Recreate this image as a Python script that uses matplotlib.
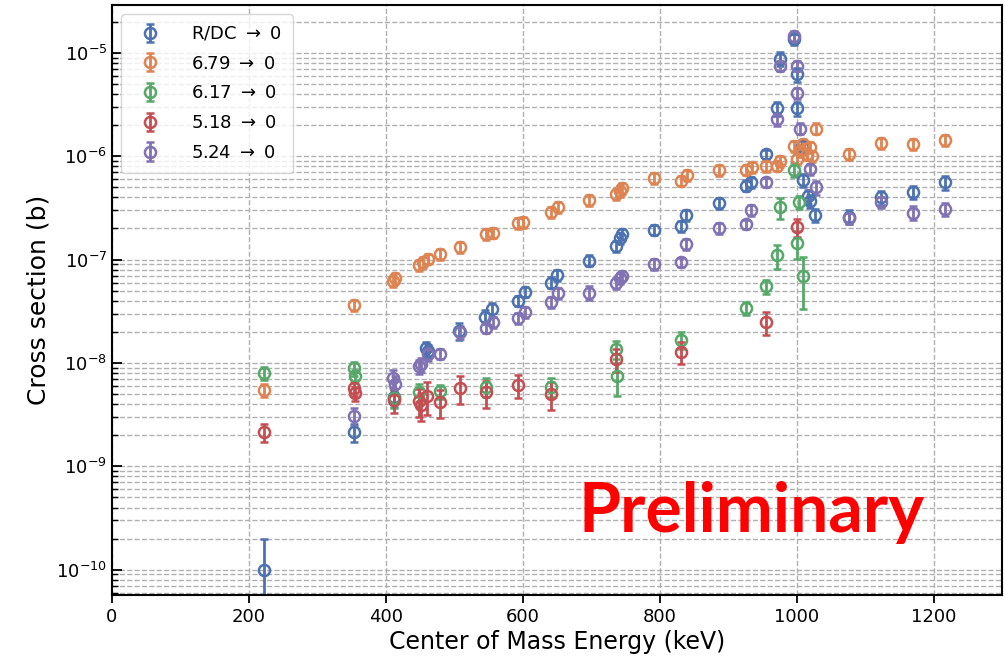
import numpy as np
import matplotlib
matplotlib.use("Agg")
import matplotlib.pyplot as plt

# ---- data (energy in keV, cross section in b)
labels = [r"R/DC $\rightarrow$ 0", r"6.79 $\rightarrow$ 0", r"6.17 $\rightarrow$ 0",
          r"5.18 $\rightarrow$ 0", r"5.24 $\rightarrow$ 0"]
colors = ["#4C72B0", "#DD8452", "#55A868", "#C44E52", "#8172B3"]

blue_e = [222, 354, 412, 458, 461, 507, 545, 555, 593, 603, 642, 650, 697, 736, 742, 745,
          792, 831, 839, 887, 926, 934, 956, 972, 976, 996, 1000, 1001, 1008, 1010, 1017,
          1020, 1027, 1076, 1123, 1170, 1217]
blue_s = [1.0e-10, 2.15e-9, 4.7e-9, 1.4e-8, 1.3e-8, 2.05e-8, 2.8e-8, 3.3e-8, 4.0e-8, 4.9e-8,
          6.0e-8, 7.1e-8, 9.8e-8, 1.35e-7, 1.6e-7, 1.75e-7, 1.95e-7, 2.1e-7, 2.7e-7, 3.5e-7,
          5.2e-7, 5.6e-7, 1.05e-6, 2.9e-6, 8.8e-6, 1.35e-5, 6.2e-6, 2.9e-6, 1.25e-6, 5.9e-7,
          4.1e-7, 3.7e-7, 2.7e-7, 2.6e-7, 4.0e-7, 4.5e-7, 5.6e-7]
blue_r = [1.0, 0.2, 0.2, 0.15, 0.15, 0.18, 0.15, 0.15, 0.12, 0.12, 0.12, 0.12, 0.12, 0.12,
          0.12, 0.12, 0.12, 0.12, 0.12, 0.12, 0.12, 0.12, 0.1, 0.15, 0.15, 0.12, 0.15, 0.15,
          0.15, 0.15, 0.15, 0.15, 0.15, 0.15, 0.15, 0.15, 0.15]

orange_e = [222, 354, 411, 413, 449, 455, 461, 479, 508, 546, 556, 593, 601, 642, 651, 697,
            736, 742, 745, 792, 831, 840, 887, 926, 935, 956, 972, 976, 996, 1000, 1005,
            1010, 1015, 1020, 1022, 1028, 1076, 1123, 1170, 1217]
orange_s = [5.5e-9, 3.6e-8, 6.2e-8, 6.6e-8, 8.8e-8, 9.4e-8, 1.02e-7, 1.13e-7, 1.32e-7,
            1.75e-7, 1.82e-7, 2.27e-7, 2.32e-7, 2.9e-7, 3.2e-7, 3.75e-7, 4.3e-7, 4.6e-7,
            4.9e-7, 6.1e-7, 5.8e-7, 6.6e-7, 7.3e-7, 7.4e-7, 7.8e-7, 8.0e-7, 8.1e-7, 9.0e-7,
            1.25e-6, 9.5e-7, 1.12e-6, 1.3e-6, 1.05e-6, 1.22e-6, 1.0e-6, 1.85e-6, 1.05e-6,
            1.33e-6, 1.3e-6, 1.42e-6]
orange_r = [0.15] + [0.12] * 39

green_e = [222, 353, 355, 412, 449, 479, 546, 641, 736, 737, 831, 926, 956, 972, 976, 996,
           1001, 1003, 1010]
green_s = [8.0e-9, 8.9e-9, 7.5e-9, 4.6e-9, 5.2e-9, 5.3e-9, 5.9e-9, 5.9e-9, 1.36e-8, 7.4e-9,
           1.68e-8, 3.4e-8, 5.5e-8, 1.1e-7, 3.2e-7, 7.4e-7, 1.45e-7, 3.6e-7, 7.0e-8]
green_r = [0.15, 0.15, 0.15, 0.2, 0.2, 0.15, 0.2, 0.2, 0.2, 0.35, 0.18, 0.15, 0.15, 0.27,
           0.22, 0.15, 0.3, 0.15, 0.52]

red_e = [222, 353, 355, 412, 449, 451, 460, 479, 508, 546, 593, 641, 736, 831, 956, 1001]
red_s = [2.15e-9, 5.7e-9, 5.1e-9, 4.4e-9, 4.3e-9, 3.95e-9, 4.8e-9, 4.2e-9, 5.7e-9, 5.2e-9,
         6.1e-9, 5.0e-9, 1.09e-8, 1.29e-8, 2.5e-8, 2.05e-7]
red_r = [0.2, 0.15, 0.15, 0.25, 0.3, 0.3, 0.35, 0.3, 0.3, 0.3, 0.25, 0.3, 0.25, 0.25, 0.25, 0.2]

purple_e = [354, 411, 413, 449, 452, 461, 479, 508, 546, 556, 593, 603, 642, 651, 697, 736,
            742, 745, 792, 831, 839, 887, 926, 934, 956, 971, 976, 996, 1001, 1001, 1005,
            1020, 1028, 1076, 1123, 1170, 1217]
purple_s = [3.05e-9, 7.2e-9, 6.3e-9, 9.3e-9, 9.7e-9, 1.22e-8, 1.23e-8, 2.0e-8, 2.2e-8,
            2.5e-8, 2.7e-8, 3.1e-8, 3.85e-8, 4.75e-8, 4.8e-8, 5.9e-8, 6.6e-8, 7.0e-8,
            9.1e-8, 9.5e-8, 1.42e-7, 2.0e-7, 2.2e-7, 3.0e-7, 5.6e-7, 2.3e-6, 7.5e-6,
            1.45e-5, 7.5e-6, 4.1e-6, 1.85e-6, 7.5e-7, 5.0e-7, 2.5e-7, 3.6e-7, 2.85e-7, 3.1e-7]
purple_r = [0.2, 0.2, 0.2, 0.15, 0.15, 0.15, 0.12, 0.15, 0.12, 0.12, 0.12, 0.12, 0.12, 0.12,
            0.15, 0.12, 0.12, 0.12, 0.12, 0.1, 0.12, 0.12, 0.1, 0.12, 0.1, 0.15, 0.12, 0.12,
            0.12, 0.12, 0.12, 0.12, 0.15, 0.12, 0.12, 0.15, 0.15]

series = [(blue_e, blue_s, blue_r), (orange_e, orange_s, orange_r), (green_e, green_s, green_r),
          (red_e, red_s, red_r), (purple_e, purple_s, purple_r)]

fig = plt.figure(figsize=(10.05, 6.6), dpi=100)
ax = fig.add_axes([0.1114, 0.0985, 0.8856, 0.8939])

for (e, s, r), lab, c in zip(series, labels, colors):
    s = np.array(s)
    err = s * np.array(r)
    ax.errorbar(e, s, yerr=err, fmt="o", mfc="none", mec=c, color=c, ms=8, mew=1.8,
                elinewidth=2, capsize=3, capthick=2, label=lab)

ax.set_yscale("log")
ax.set_xlim(0, 1300)
ax.set_ylim(5.7e-11, 2.9e-5)
ax.grid(True, which="major", axis="x", ls="--", color="#b0b0b0", lw=1)
ax.grid(True, which="both", axis="y", ls="--", color="#b0b0b0", lw=1)
ax.set_axisbelow(True)

for sp in ax.spines.values():
    sp.set_linewidth(1.5)
    sp.set_color("black")
ax.tick_params(axis="y", which="both", direction="in", labelsize=13)
ax.tick_params(axis="y", which="major", length=7, width=1.3)
ax.tick_params(axis="y", which="minor", length=4, width=1)
ax.tick_params(axis="x", direction="out", length=6, width=1.3, labelsize=13)

ax.set_xlabel("Center of Mass Energy (keV)", fontsize=17, labelpad=3)
ax.set_ylabel("Cross section (b)", fontsize=18)

leg = ax.legend(loc="upper left", fontsize=13, framealpha=0.8, handletextpad=1.3,
                borderpad=0.6, labelspacing=0.65)

ax.text(0.719, 0.14, "Preliminary", transform=ax.transAxes, ha="center", va="center",
        color="#ff0000", fontsize=49, fontweight="bold", family="Lato")

fig.savefig("out.png", dpi=100)
